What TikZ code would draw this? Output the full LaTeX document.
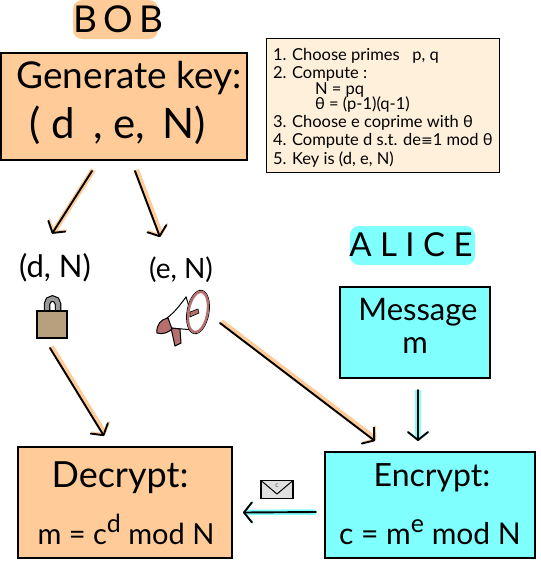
\documentclass[tikz,border=0pt]{standalone}
\usepackage{fontspec}
\setmainfont{Lato}
\newfontfamily\symfont{DejaVu Sans}
\usetikzlibrary{arrows.meta}
\definecolor{peach}{HTML}{FFCC99}
\definecolor{aqua}{HTML}{80FFFF}
\definecolor{cream}{HTML}{FFF0DC}
\definecolor{tan}{HTML}{B89F7E}
\definecolor{rose}{HTML}{B56F6F}
\newcommand{\fs}[1]{\fontsize{#1}{#1}\selectfont}
\tikzset{
  x=1pt,y=-1pt,
  every node/.style={inner sep=0pt,outer sep=0pt,text=black,align=center},
  boxed/.style={draw=black,line width=1.6pt,minimum width=#1,anchor=north west},
  orangebox/.style={fill=peach},
  cyanbox/.style={fill=aqua},
  blob/.style={rounded corners=9pt},
  conn/.style={line width=1.9pt,line cap=round,-{Straight Barb[round,length=8pt,width=20pt,line width=1.9pt]}},
  hlorange/.style={preaction={draw=peach,line width=5.5pt,transform canvas={shift={(1.2pt,1.2pt)}}}},
  hlcyan/.style={preaction={draw=aqua,line width=5.5pt}},
}
\begin{document}
\begin{tikzpicture}
\useasboundingbox (0,0) rectangle (541,566);
% title blobs
\fill[peach,blob] (73,0) rectangle (158,39);
\fill[aqua,blob] (350,226) rectangle (475,265);
\node (bob) at (118,19) {\fs{37}B\,O\,B};
\node (alice) at (411,245) {\fs{33}A L I C E};
% main boxes
\node[boxed=246pt,orangebox,minimum height=107pt] (gen) at (1,53) {};
\node[boxed=233pt,fill=cream,line width=1pt,minimum height=134pt] (note) at (266,38) {};
\node[boxed=150pt,cyanbox,minimum height=91pt] (msg) at (340,287) {};
\node[boxed=214pt,orangebox,minimum height=111pt] (dec) at (18,447) {};
\node[boxed=210pt,cyanbox,minimum height=106pt] (enc) at (325,452) {};
% box texts
\node (gent) at (129,78) {\fs{37}Generate key:};
\node (gent2) at (118,125) {\fs{42}( d\, , e,\, N)};
\node (mt) at (418,312) {\fs{31}Message};
\node (mt2) at (415,346) {\fs{31}m};
\node (dt) at (120,478) {\fs{36}Decrypt:};
\node (dt2) at (126,529) {\fs{29}m = c\raisebox{12pt}{\fs{25}d} mod N};
\node (et) at (432,478) {\fs{32}Encrypt:};
\node (et2) at (430,532) {\fs{30}c = m\raisebox{12pt}{\fs{25}e} mod N};
% note lines
\node[anchor=west] (n1) at (273,56) {\fs{16.5}1. Choose primes \ \ p, q};
\node[anchor=west] (n2) at (273,74) {\fs{16.5}2. Compute :};
\node[anchor=west] (n3) at (315,90) {\fs{16.5}N = pq};
\node[anchor=west] (n4) at (315,105) {\fs{16.5}θ = (p-1)(q-1)};
\node[anchor=west] (n5) at (273,123) {\fs{16.5}3. Choose e coprime with θ};
\node[anchor=west] (n6) at (273,141) {\fs{16.5}4. Compute d s.t. de{\symfont\fs{14}≡}1 mod θ};
\node[anchor=west] (n7) at (273,160) {\fs{16.5}5. Key is (d, e, N)};
% key labels
\node (dn) at (55,268) {\fs{31}(d, N)};
\node (en) at (181,270) {\fs{28}(e, N)};
% padlock
\draw[black,line width=6.5pt] (47,313) -- (47,304) arc[start angle=180,end angle=360,radius=5.5] -- (58,313);
\draw[gray!80,line width=4.2pt] (47,313) -- (47,304) arc[start angle=180,end angle=360,radius=5.5] -- (58,313);
\node[draw=black,line width=1.3pt,fill=tan,minimum width=30pt,minimum height=27pt,anchor=north west] (lock) at (37,311) {};
% megaphone
\filldraw[fill=white,draw=black,line width=1pt] (186,297) .. controls (180,305) and (175,312) .. (167,318) -- (171,328) .. controls (180,329) and (188,329) .. (197,331) -- cycle;
\filldraw[fill=rose,draw=black,line width=1pt] (171,328) -- (180,329) -- (181,343) -- (175,346) -- cycle;
\filldraw[fill=rose,draw=black,line width=1pt] (168,318) .. controls (161,319) and (156,325) .. (157,333) .. controls (163,335) and (169,332) .. (172,329) -- cycle;
\draw[fill=white,draw=black,line width=.8pt,rotate around={-10:(198,312)}] (198,312) ellipse[x radius=11,y radius=22];
\draw[rose,line width=2.4pt,rotate around={-10:(198,312)}] (198,312) ellipse[x radius=9.5,y radius=20.5];
\filldraw[fill=rose,draw=black,line width=.6pt] (190,312) -- (198,309) -- (199,313) -- (190,317) -- cycle;
\node (mega) at (184,318) [minimum width=55pt,minimum height=56pt] {};
% envelope
\node[draw=black,line width=1.3pt,fill=gray!25,minimum width=32pt,minimum height=18pt,anchor=north west] (env) at (261,480.5) {};
\draw[black,line width=1pt,line join=round] (env.north west) -- (277,494) -- (env.north east);
\node (envc) at (277,486) {\fs{7}\color{gray!70!black}c};
% connectors
\draw[conn,hlorange] ([shift={(-32,11)}]gen.south) -- ([shift={(-3,-20)}]dn.north);
\draw[conn,hlorange] ([shift={(11,11)}]gen.south) -- ([shift={(-21,-20)}]en.north);
\draw[conn,hlorange] ([shift={(-2,10)}]lock.south) -- ([shift={(-21,-11)}]dec.north);
\draw[conn,hlorange] ([shift={(36,-23)}]mega.south) -- ([shift={(50,-11)}]enc.north west);
\draw[conn,hlcyan] ([shift={(3,12)}]msg.south) -- ([shift={(-12,-11)}]enc.north);
\draw[conn,hlcyan] ([shift={(-9,7)}]enc.west) -- ([shift={(11,10)}]dec.east);
\end{tikzpicture}
\end{document}
